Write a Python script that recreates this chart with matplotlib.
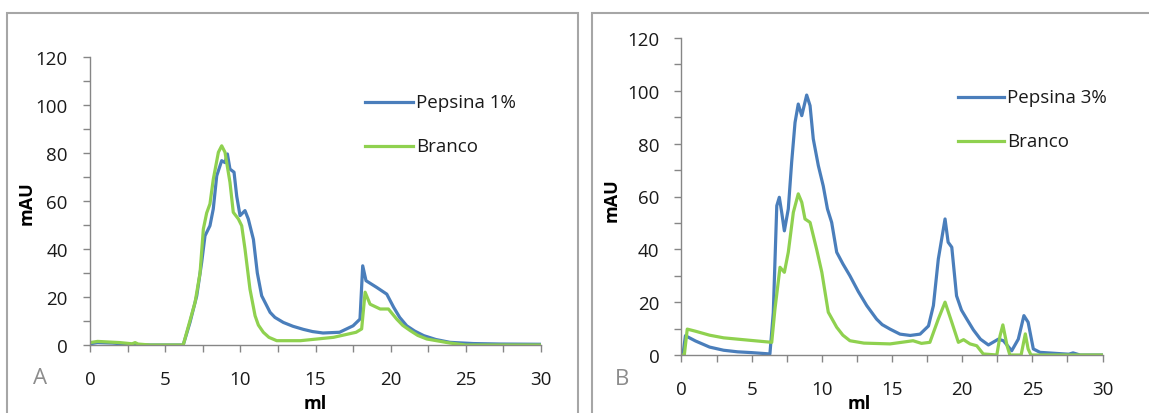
import matplotlib
matplotlib.use("Agg")
import matplotlib.pyplot as plt
from matplotlib.patches import Rectangle
from matplotlib.ticker import MultipleLocator

plt.rcParams['font.family'] = ['Open Sans', 'DejaVu Sans']

BLUE = "#4a7ebb"
GREEN = "#8fd14f"
GRAY = "#868686"
TXT = "#1a1a1a"

# Panel A: Pepsina 1% vs Branco
a_pep_x = [0, 0.5, 1.5, 2.5, 4, 6.2, 6.65, 7.1, 7.43, 7.65, 7.98, 8.2, 8.43, 8.76, 8.98, 9.14,
           9.31, 9.58, 9.76, 9.98, 10.31, 10.53, 10.87, 11.13, 11.42, 11.98, 12.3, 12.86, 13.5,
           14.2, 14.8, 15.5, 16.6, 17.5, 17.96, 18.14, 18.36, 19.07, 19.74, 20.2, 20.6, 21.07,
           21.6, 22.2, 23.0, 23.95, 25.5, 27.3, 30]
a_pep_y = [0.5, 1.0, 0.8, 0.3, 0, 0, 9.4, 20.5, 34.5, 45.5, 49.7, 56.7, 70.5, 76.8, 76, 79.6,
           73.3, 72, 62, 53.9, 56, 52.5, 44, 30, 20.5, 13.6, 11.5, 9.4, 7.8,
           6.5, 5.6, 5.0, 5.3, 8, 10.8, 33, 26.8, 24, 21.2, 15.7, 11.5, 8,
           5.8, 3.9, 2.3, 1.1, 0.6, 0.4, 0.3]
a_bra_x = [0, 0.5, 2.0, 2.8, 3.0, 3.2, 4, 6.2, 6.99, 7.32, 7.54, 7.76, 7.98, 8.2, 8.54, 8.76,
           8.98, 9.31, 9.53, 9.87, 10.09, 10.31, 10.64, 10.98, 11.2, 11.53, 11.9, 12.42, 14.0,
           16.2, 17.7, 18.07, 18.3, 18.63, 19.3, 19.85, 20.4, 20.8, 21.3, 21.8, 22.4, 23.95, 25, 30]
a_bra_y = [1, 1.5, 1, 0.5, 1, 0.4, 0, 0, 17.8, 30, 48.3, 55, 58.8, 69, 80.3, 83,
           80.3, 67.8, 55.3, 52.5, 49.7, 40, 23.3, 12.2, 8.3, 5.3, 3.2, 1.8, 1.8,
           3.2, 5.3, 6.7, 22, 17, 15, 15, 10.8, 8.2, 6, 4, 2.5, 0.8, 0, 0]

# Panel B: Pepsina 3% vs Branco
b_pep_x = [0, 0.15, 0.28, 1.0, 2.0, 3.0, 4.0, 5.0, 6.3, 6.54, 6.79, 6.97, 7.14, 7.33, 7.61,
           7.85, 8.09, 8.32, 8.57, 8.92, 9.16, 9.39, 9.75, 10.1, 10.4, 10.7, 11.06, 11.5, 12.0,
           12.6, 13.2, 13.9, 14.3, 14.86, 15.57, 16.3, 17.0, 17.6, 17.95, 18.3, 18.78, 19.0,
           19.26, 19.6, 19.95, 20.33, 20.8, 21.3, 21.87, 22.58, 22.94, 23.53, 24.0, 24.4, 24.7,
           25.07, 25.55, 27.0, 27.6, 27.9, 28.4, 30]
b_pep_y = [0, 2, 7.3, 5.3, 3, 1.8, 1.2, 0.9, 0.4, 16, 56.5, 59.7, 54, 47, 55.3,
           73, 88, 95, 90.6, 98.4, 94.4, 81.8, 71.7, 64, 55.3, 50.2, 38.9, 34.5, 30,
           24, 18.7, 13.6, 11.5, 9.8, 7.9, 7.4, 7.9, 11, 18.7, 36.3, 51.5, 42.7,
           40.8, 22.4, 17, 13.6, 9.5, 6, 3.8, 6, 5.4, 1.6, 6, 14.9, 12.4,
           2.3, 1, 0.5, 0.3, 0.8, 0, 0]
b_bra_x = [0, 0.2, 0.41, 1.0, 2.0, 3.0, 4.0, 5.0, 6.43, 6.66, 7.02, 7.33, 7.61, 7.97, 8.32,
           8.57, 8.8, 9.16, 9.63, 10.0, 10.46, 11.06, 11.5, 12.0, 13.0, 14.86, 16.5, 17.1, 17.7,
           18.3, 18.78, 19.26, 19.73, 20.1, 20.56, 21.04, 21.5, 22.47, 22.7, 22.9, 23.2, 23.4,
           24.2, 24.5, 24.7, 24.9, 30]
b_bra_y = [0, 0, 9.8, 9, 7.5, 6.5, 6, 5.5, 4.8, 17.4, 33.2, 31.3, 38.9, 54, 61,
           57.8, 51.5, 50.2, 40, 31.3, 16.2, 10.5, 7.5, 5.4, 4.5, 4.2, 5.4, 4.4, 4.8,
           13.6, 20, 12.4, 4.8, 5.8, 4.2, 3.5, 0.4, 0, 7.3, 11.4, 3.5, 0,
           0, 8, 2.3, 0, 0]

W, H = 1149, 414
fig = plt.figure(figsize=(W / 100, H / 100), dpi=100)


def px_axes(x0, x1, ytop, ybot):
    return fig.add_axes([x0 / W, (H - ybot) / H, (x1 - x0) / W, (ybot - ytop) / H])


def style(ax, ypad, xpad):
    ax.set_xlim(0, 30)
    ax.set_ylim(0, 120)
    for s in ["top", "right"]:
        ax.spines[s].set_visible(False)
    for s in ["left", "bottom"]:
        ax.spines[s].set_color(GRAY)
        ax.spines[s].set_linewidth(1)
    ax.xaxis.set_major_locator(MultipleLocator(5))
    ax.xaxis.set_minor_locator(MultipleLocator(2.5))
    ax.yaxis.set_major_locator(MultipleLocator(20))
    ax.yaxis.set_minor_locator(MultipleLocator(10))
    ax.tick_params(axis="both", which="both", color=GRAY, length=5, width=1, labelsize=13.5,
                   labelcolor=TXT)
    ax.tick_params(axis="y", which="major", pad=ypad)
    ax.tick_params(axis="x", which="major", pad=xpad)
    ax.patch.set_alpha(0)


# panel frames
fig.patches.append(Rectangle((7 / W, -0.1), (578 - 7) / W, (H - 14) / H + 0.1,
                             transform=fig.transFigure, fill=False, edgecolor="#a6a6a6", lw=1.5))
fig.patches.append(Rectangle((592 / W, -0.1), (1160 - 592) / W, (H - 14) / H + 0.1,
                             transform=fig.transFigure, fill=False, edgecolor="#a6a6a6", lw=1.5))

ax1 = px_axes(90, 541, 58, 346)
style(ax1, 11, 13)
ax1.plot(a_pep_x, a_pep_y, color=BLUE, lw=2.3, solid_joinstyle="round", label="Pepsina 1%")
ax1.plot(a_bra_x, a_bra_y, color=GREEN, lw=2.3, solid_joinstyle="round", label="Branco")

ax2 = px_axes(681.5, 1102.5, 39, 356)
style(ax2, 11, 13)
ax2.plot(b_pep_x, b_pep_y, color=BLUE, lw=2.3, solid_joinstyle="round", label="Pepsina 3%")
ax2.plot(b_bra_x, b_bra_y, color=GREEN, lw=2.3, solid_joinstyle="round", label="Branco")

# legends drawn by hand in figure pixels
def legend(x0, x1, ys, labels, colors):
    for y, lab, c in zip(ys, labels, colors):
        fig.add_artist(plt.Line2D([x0 / W, x1 / W], [(H - y) / H] * 2, color=c, lw=2.3))
        fig.text((x1 + 3) / W, (H - y) / H, lab, fontsize=13.5, va="center", ha="left",
                 color=TXT)

legend(365, 413, [103, 147], ["Pepsina 1%", "Branco"], [BLUE, GREEN])
legend(958, 1004, [98, 142], ["Pepsina 3%", "Branco"], [BLUE, GREEN])

# axis titles and panel letters
fig.text(27 / W, (H - 203) / H, "mAU", rotation=90, fontsize=13, fontweight="bold",
         ha="center", va="center", color="black")
fig.text(315 / W, (H - 404) / H, "ml", fontsize=13, fontweight="bold", ha="center",
         va="center", color="black")
fig.text(612 / W, (H - 200) / H, "mAU", rotation=90, fontsize=13, fontweight="bold",
         ha="center", va="center", color="black")
fig.text(859 / W, (H - 404) / H, "ml", fontsize=13, fontweight="bold", ha="center",
         va="center", color="black")
fig.text(40 / W, (H - 379) / H, "A", fontsize=16, color="#8c8c8c", ha="center", va="center")
fig.text(622 / W, (H - 380) / H, "B", fontsize=16, color="#8c8c8c", ha="center", va="center")

fig.savefig("out.png", dpi=100)
